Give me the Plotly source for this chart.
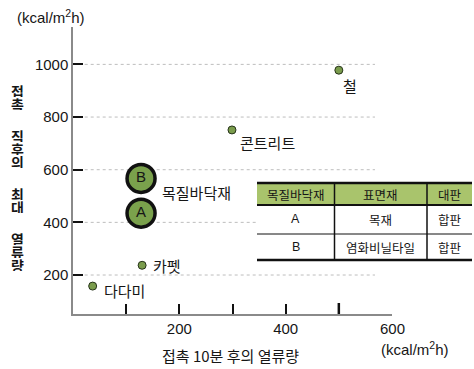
import plotly.graph_objects as go

# ---------------- data ----------------
materials = ["다다미", "카펫", "콘트리트", "철"]
mat_x = [37, 130, 299, 500]
mat_y = [158, 237, 751, 978]

wood_labels = ["A", "B"]
wood_x = [128, 128]
wood_y = [435, 567]
wood_name = "목질바닥재"

x_major = [200, 400]
x_major_text = ["200", "400"]
x_minor = [100, 300, 500]
x_end_label = "600"
y_tickvals = [200, 400, 600, 800, 1000]
y_ticktext = ["200", "400", "600", "800", "1000"]

unit = "(kcal/m<sup>2</sup>h)"
x_title = "접촉 10분 후의 열류량"
y_title = "접촉 직후의 최대 열류량"

table_header = ["목질바닥재", "표면재", "대판"]
table_rows = [["A", "목재", "합판"], ["B", "염화비닐타일", "합판"]]

# ---------------- style ----------------
W, H = 474, 369
L, R, T, B = 73, 82, 27, 55
PW, PH = W - L - R, H - T - B
KFONT = "Noto Sans CJK KR"
NFONT = "Liberation Sans"
GREEN = "#7a9c4c"
HDR = "#a9c46c"
INK = "#161616"


def fx(px):
    return (px - L) / PW


def fy(py):
    return (H - B - py) / PH


fig = go.Figure()

fig.add_trace(go.Scatter(
    x=mat_x, y=mat_y, mode="markers",
    marker=dict(size=8, color=GREEN, line=dict(color="#26331a", width=1)),
    hoverinfo="skip"))

fig.add_trace(go.Scatter(
    x=wood_x, y=wood_y, mode="markers+text", text=wood_labels,
    textposition="middle center",
    textfont=dict(family=NFONT, size=15, color=INK),
    marker=dict(size=28, color="#7aa14c", line=dict(color="#111", width=3.5)),
    hoverinfo="skip"))

annotations = []
label_shift = {"다다미": (9, -4, "left"), "카펫": (9, 0, "left"),
               "콘트리트": (6, -13, "left"), "철": (11, -15, "center")}
for name, xv, yv in zip(materials, mat_x, mat_y):
    dx, dy, anc = label_shift[name]
    annotations.append(dict(x=xv, y=yv, xref="x", yref="y", text=name,
                            showarrow=False, xanchor=anc, yanchor="middle",
                            xshift=dx, yshift=dy,
                            font=dict(family=KFONT, size=15, color=INK)))
annotations.append(dict(x=wood_x[0], y=sum(wood_y) / 2, xref="x", yref="y",
                        text=wood_name, showarrow=False, xanchor="left",
                        yanchor="middle", xshift=19, yshift=3,
                        font=dict(family=KFONT, size=15, color=INK)))

annotations.append(dict(x=600, y=0, xref="x", yref="paper", text=x_end_label,
                        showarrow=False, xanchor="center", yanchor="middle",
                        yshift=-14, font=dict(family=NFONT, size=15, color=INK)))
annotations.append(dict(x=fx(379), y=fy(348), xref="paper", yref="paper",
                        text=unit, showarrow=False, xanchor="left", yanchor="middle",
                        font=dict(family=NFONT, size=15, color=INK)))
annotations.append(dict(x=fx(15), y=fy(16), xref="paper", yref="paper",
                        text=unit, showarrow=False, xanchor="left", yanchor="middle",
                        font=dict(family=NFONT, size=15, color=INK)))
annotations.append(dict(x=fx(230), y=fy(355), xref="paper", yref="paper",
                        text=x_title, showarrow=False, xanchor="center",
                        yanchor="middle",
                        font=dict(family=KFONT, size=15, color=INK)))
pitch = 13.1
gap = 19.0
py = 90
for c in y_title:
    if c == " ":
        py += gap
        continue
    annotations.append(dict(x=fx(17), y=fy(py), xref="paper", yref="paper",
                            text="<b>" + c + "</b>", showarrow=False,
                            xanchor="center", yanchor="middle",
                            width=15, height=13,
                            font=dict(family=KFONT, size=14, color=INK)))
    py += pitch

shapes = []
for yv in y_tickvals:
    shapes.append(dict(type="line", xref="x", yref="y", x0=22, x1=568,
                       y0=yv, y1=yv, layer="below",
                       line=dict(color="#bdbdbd", width=1, dash="dot")))
shapes.append(dict(type="line", xref="x", yref="paper", x0=500, x1=500,
                   y0=0, y1=11 / PH, line=dict(color="#111", width=2.5)))

tx = [257, 334.5, 427, 472]
ty = [183, 205, 234, 260]
shapes.append(dict(type="rect", xref="paper", yref="paper",
                   x0=fx(tx[0]), x1=fx(tx[3]), y0=fy(ty[0]), y1=fy(ty[3]),
                   fillcolor="white", line=dict(width=0)))
shapes.append(dict(type="rect", xref="paper", yref="paper",
                   x0=fx(tx[0]), x1=fx(tx[3]), y0=fy(ty[0]), y1=fy(ty[1]),
                   fillcolor=HDR, line=dict(width=0)))
for yy, w in [(ty[0], 2.5), (ty[1], 2), (ty[2], 1), (ty[3], 2.5)]:
    shapes.append(dict(type="line", xref="paper", yref="paper",
                       x0=fx(tx[0]), x1=fx(tx[3]), y0=fy(yy), y1=fy(yy),
                       line=dict(color="#111", width=w)))
for xx in tx[1:3]:
    shapes.append(dict(type="line", xref="paper", yref="paper",
                       x0=fx(xx), x1=fx(xx), y0=fy(ty[0]), y1=fy(ty[3]),
                       line=dict(color="#111", width=1.5)))
rows = [table_header] + table_rows
for r, row in enumerate(rows):
    cy = (ty[r] + ty[r + 1]) / 2
    for c, txt in enumerate(row):
        cx = (tx[c] + tx[c + 1]) / 2
        annotations.append(dict(x=fx(cx), y=fy(cy), xref="paper", yref="paper",
                                text=txt, showarrow=False, xanchor="center",
                                yanchor="middle",
                                font=dict(family=KFONT if txt not in ("A", "B") else NFONT,
                                          size=12.5, color=INK)))

fig.update_layout(
    width=W, height=H, margin=dict(l=L, r=R, t=T, b=B, autoexpand=False),
    paper_bgcolor="white", plot_bgcolor="white", showlegend=False,
    annotations=annotations, shapes=shapes,
    xaxis=dict(range=[0, 600], tickvals=x_major, ticktext=x_major_text,
               ticks="inside", ticklen=10, tickwidth=1.5, tickcolor="#111",
               minor=dict(tickvals=x_minor, ticks="inside", ticklen=10,
                          tickwidth=1.5, tickcolor="#111", showgrid=False),
               showline=True, linecolor="#8a8a8a", linewidth=1.5,
               showgrid=False, zeroline=False, automargin=False,
               tickfont=dict(family=NFONT, size=15, color=INK)),
    yaxis=dict(range=[52, 1142], tickvals=y_tickvals, ticktext=y_ticktext,
               ticks="inside", ticklen=10, tickwidth=1.5, tickcolor="#111",
               showline=True, linecolor="#8a8a8a", linewidth=1.5,
               showgrid=False, zeroline=False, automargin=False,
               tickfont=dict(family=NFONT, size=15, color=INK)),
)

fig.write_html("out.html", config={"displayModeBar": False},
               post_script="document.body.style.margin='0';document.body.style.overflow='hidden';")
